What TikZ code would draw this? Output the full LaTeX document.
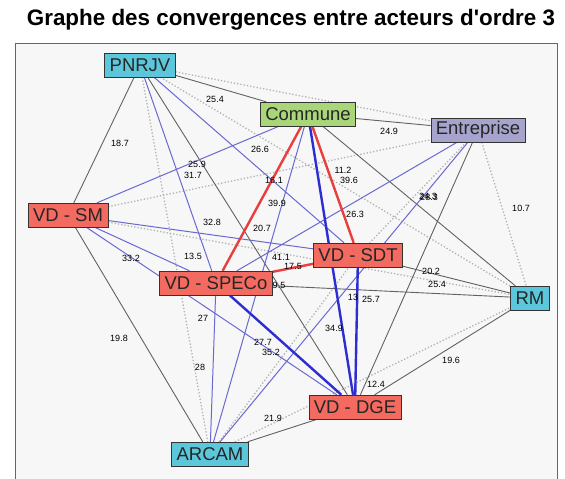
\documentclass[tikz,border=0pt]{standalone}
\usepackage{fontspec}
\setmainfont{Liberation Sans}[Ligatures=TeXOff]
\usepackage{tikz}
\pgfdeclarelayer{background}
\pgfsetlayers{background,main}

\definecolor{framebg}{RGB}{247,247,247}
\definecolor{acyan}{RGB}{92,198,218}
\definecolor{agreen}{RGB}{170,214,122}
\definecolor{alilac}{RGB}{166,164,204}
\definecolor{ared}{RGB}{242,106,96}
\definecolor{dotgrey}{RGB}{178,178,178}
\definecolor{linegrey}{RGB}{98,98,98}
\definecolor{bluethin}{RGB}{105,105,210}
\definecolor{bluethick}{RGB}{45,45,210}
\definecolor{redthick}{RGB}{232,62,62}

\begin{document}
\begin{tikzpicture}[x=1pt,y=-1pt,
    actor/.style={draw=black!80,inner xsep=5pt,inner ysep=0pt,minimum height=24pt,text=black!85,font=\fontsize{18.5}{18.5}\selectfont},
    val/.style={inner sep=0pt,font=\fontsize{9}{9}\selectfont},
    weakedge/.style={draw=dotgrey,line width=1.3pt,dotted},
    greyedge/.style={draw=linegrey,line width=0.9pt},
    blueedge/.style={draw=bluethin,line width=1pt},
    strongblue/.style={draw=bluethick,line width=2.4pt},
    strongred/.style={draw=redthick,line width=2.4pt}]
    \useasboundingbox (0,0) rectangle (565,479);

    \node[font=\bfseries\fontsize{22.4}{22.4}\selectfont] (title) at (291,20) {Graphe des convergences entre acteurs d'ordre 3};

    % actors
    \node[actor,fill=acyan] (pnrjv) at (140,65) {PNRJV};
    \node[actor,fill=agreen] (com) at (308,114) {Commune};
    \node[actor,fill=alilac] (ent) at (478,130) {Entreprise};
    \node[actor,fill=ared] (sm) at (68,215) {VD - SM};
    \node[actor,fill=ared] (sdt) at (358,255) {VD - SDT};
    \node[actor,fill=ared] (speco) at (216,283) {VD - SPECo};
    \node[actor,fill=acyan] (rm) at (530,298) {RM};
    \node[actor,fill=ared] (dge) at (355,407) {VD - DGE};
    \node[actor,fill=acyan] (arcam) at (210,454) {ARCAM};

    \begin{pgfonlayer}{background}
    \draw[draw=black!60,fill=framebg,line width=1pt] (15,479) |- (557,43) -- (557,479);

    % weak links
    \draw[weakedge] (pnrjv) edge (ent) ;
    \draw[weakedge] (pnrjv) edge (rm) ;
    \draw[weakedge] (pnrjv) edge (arcam) ;
    \draw[weakedge] (sm) edge (ent) ;
    \draw[weakedge] (sm) edge (rm) ;
    \draw[weakedge] (ent) edge (rm) ;
    \draw[weakedge] (ent) edge (sdt) ;
    \draw[weakedge] (arcam) edge (sdt) ;
    \draw[weakedge] (arcam) edge (rm) ;

    % moderate links
    \draw[greyedge] (pnrjv) edge (sm) ;
    \draw[greyedge] (pnrjv) edge (com) ;
    \draw[greyedge] (pnrjv) edge (dge) ;
    \draw[greyedge] (com) edge (ent) ;
    \draw[greyedge] (com) edge (rm) ;
    \draw[greyedge] (sm) edge (arcam) ;
    \draw[greyedge] (sdt) edge (rm) ;
    \draw[greyedge] (speco) edge (rm) ;
    \draw[greyedge] (dge) edge (rm) ;
    \draw[greyedge] (arcam) edge (dge) ;
    \draw[greyedge] (ent) edge (dge) ;

    % strong links
    \draw[blueedge] (pnrjv) edge (speco) ;
    \draw[blueedge] (pnrjv) edge (sdt) ;
    \draw[blueedge] (com) edge (sm) ;
    \draw[blueedge] (com) edge (arcam) ;
    \draw[blueedge] (sm) edge (sdt) ;
    \draw[blueedge] (sm) edge (speco) ;
    \draw[blueedge] (sm) edge (dge) ;
    \draw[blueedge] (speco) edge (ent) ;
    \draw[blueedge] (speco) edge (arcam) ;
    \draw[blueedge] (ent) edge (arcam) ;

    % strongest links
    \draw[strongblue] (com) edge (dge) ;
    \draw[strongblue] (sdt) edge (dge) ;
    \draw[strongblue] (speco) edge (dge) ;
    \draw[strongred] (com) edge (speco) ;
    \draw[strongred] (com) edge (sdt) ;
    \draw[strongred] (speco) edge (sdt) ;

    % values
    \node[val] (v1) at (215,99) {25.4};
    \node[val] (v2) at (120,143) {18.7};
    \node[val] (v3) at (260,149) {26.6};
    \node[val] (v4) at (197,164) {25.9};
    \node[val] (v5) at (193,175) {31.7};
    \node[val] (v6) at (274,180) {16.1};
    \node[val] (v7) at (343,170) {11.2};
    \node[val] (v8) at (349,180) {39.6};
    \node[val] (v9) at (277,203) {39.9};
    \node[val] (v10) at (355,214) {26.3};
    \node[val] (v11) at (428,196) {24.3};
    \node[val] (v12) at (429,197) {28.3};
    \node[val] (v13) at (521,208) {10.7};
    \node[val] (v14) at (389,131) {24.9};
    \node[val] (v15) at (212,222) {32.8};
    \node[val] (v16) at (262,228) {20.7};
    \node[val] (v17) at (193,256) {13.5};
    \node[val] (v18) at (131,258) {33.2};
    \node[val] (v19) at (281,257) {41.1};
    \node[val] (v20) at (293,266) {17.5};
    \node[val] (v21) at (279,285) {9.5};
    \node[val] (v22) at (431,271) {20.2};
    \node[val] (v23) at (437,284) {25.4};
    \node[val] (v24) at (353,297) {13};
    \node[val] (v25) at (371,299) {25.7};
    \node[val] (v26) at (203,318) {27};
    \node[val] (v27) at (334,328) {34.9};
    \node[val] (v28) at (263,342) {27.7};
    \node[val] (v29) at (271,352) {35.2};
    \node[val] (v30) at (200,367) {28};
    \node[val] (v31) at (119,338) {19.8};
    \node[val] (v32) at (451,360) {19.6};
    \node[val] (v33) at (376,384) {12.4};
    \node[val] (v34) at (273,418) {21.9};
    \end{pgfonlayer}
\end{tikzpicture}
\end{document}
